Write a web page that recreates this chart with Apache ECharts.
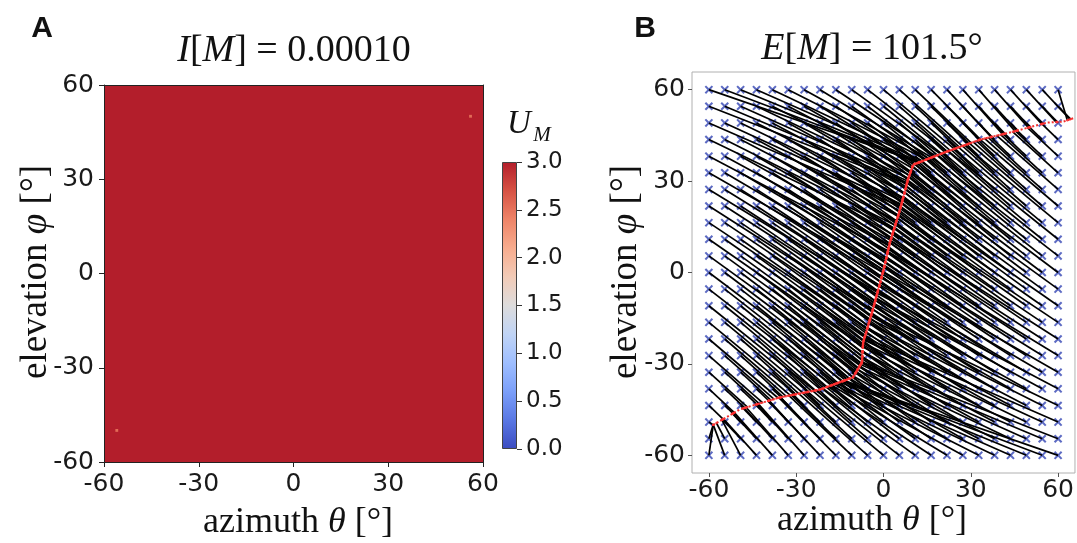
<!DOCTYPE html>
<html>
<head>
<meta charset="utf-8">
<script src="https://cdn.jsdelivr.net/npm/echarts@6/dist/echarts.min.js"></script>
<style>
html,body{margin:0;padding:0;background:#fff;}
#chart{width:1077px;height:543px;}
</style>
</head>
<body>
<div id="chart"></div>
<script>
// ---------- Panel A: U_M over azimuth / elevation ----------
const fieldTheta = [-60, 60];          // extent of the field in azimuth
const fieldPhi = [-60, 60];            // extent of the field in elevation
const fieldLevel = 3.0;                // U_M is at its ceiling everywhere
const speckTheta = [55.6, -56.4];      // two isolated lighter cells
const speckPhi = [49.6, -50.4];
const speckSize = 0.9;
const speckLevel = [2.55, 2.55];
const axisTicks = [-60, -30, 0, 30, 60];
const colorbarTicks = [0.0, 0.5, 1.0, 1.5, 2.0, 2.5, 3.0];
const coolwarm = ['#3b4cc0', '#5977e3', '#7b9ff9', '#9ebeff', '#c0d4f5', '#dddcdc',
                  '#f2cbb7', '#f7ac8e', '#ee8468', '#d65244', '#b31e2b'];

// ---------- Panel B: start grid and the ridge it settles onto ----------
const gridTheta = [-60, -54.55, -49.09, -43.64, -38.18, -32.73, -27.27, -21.82, -16.36, -10.91, -5.45,
                   0, 5.45, 10.91, 16.36, 21.82, 27.27, 32.73, 38.18, 43.64, 49.09, 54.55, 60];
const gridPhi = [-60, -54.55, -49.09, -43.64, -38.18, -32.73, -27.27, -21.82, -16.36, -10.91, -5.45,
                 0, 5.45, 10.91, 16.36, 21.82, 27.27, 32.73, 38.18, 43.64, 49.09, 54.55, 60];
const ridgeTheta = [-58.5, -49.3, -35.6, -21.8, -10.5, -7.4, -7.0, -3.6, -0.2, 2.2, 5.7, 8.4, 10.2,
                    21.8, 33.2, 44.5, 56.2, 61.7, 65.8];
const ridgePhi = [-50.0, -44.9, -41.0, -38.4, -34.4, -29.5, -23.0, -12.0, 0.0, 9.8, 20.7, 30.5, 35.4,
                  39.7, 43.6, 46.2, 49.2, 49.5, 50.8];
// steepness of the approach paths (descent per degree of azimuth) at coarse nodes
const slopeNodeTheta = [-60, -30, 0, 30, 60];
const slopeNodePhi = [-60, -30, 0, 30, 60];
const pathSlope = [
  [1.00, 1.10, 0.80, 0.50, 0.33],   // phi = -60
  [0.85, 0.90, 0.70, 0.62, 0.57],   // phi = -30
  [0.72, 0.72, 0.65, 0.72, 0.72],   // phi = 0
  [0.57, 0.62, 0.70, 0.90, 0.85],   // phi = 30
  [0.33, 0.50, 0.80, 1.10, 1.00]    // phi = 60
];

// ---------- helpers ----------
function nodeIndex(nodes, v) {
  let i = 0;
  while (i < nodes.length - 2 && v > nodes[i + 1]) i++;
  const f = (v - nodes[i]) / (nodes[i + 1] - nodes[i]);
  return [i, Math.max(0, Math.min(1, f))];
}
function slopeAt(t, p) {
  const [i, fx] = nodeIndex(slopeNodeTheta, t);
  const [j, fy] = nodeIndex(slopeNodePhi, p);
  const a = pathSlope[j][i] * (1 - fx) + pathSlope[j][i + 1] * fx;
  const b = pathSlope[j + 1][i] * (1 - fx) + pathSlope[j + 1][i + 1] * fx;
  return a * (1 - fy) + b * fy;
}
const ridge = ridgeTheta.map((t, i) => [t, ridgePhi[i]]);
function cross(a, b) { return a[0] * b[1] - a[1] * b[0]; }
function landing(t, p) {
  const s = slopeAt(t, p);
  const d = [1, -s];
  let best = null;
  for (let k = 0; k < ridge.length - 1; k++) {
    const A = ridge[k], B = ridge[k + 1];
    const e = [B[0] - A[0], B[1] - A[1]];
    const den = cross(d, e);
    if (Math.abs(den) < 1e-9) continue;
    const w = [A[0] - t, A[1] - p];
    const tt = cross(w, e) / den;
    const u = cross(w, d) / den;
    if (u >= 0 && u <= 1 && (best === null || Math.abs(tt) < Math.abs(best))) best = tt;
  }
  if (best !== null) return [t + best, p - s * best];
  // beyond the ridge ends: go to the closest point of the ridge
  let bp = ridge[0], bd = Infinity;
  for (let k = 0; k < ridge.length - 1; k++) {
    const A = ridge[k], B = ridge[k + 1];
    const e = [B[0] - A[0], B[1] - A[1]];
    let u = ((t - A[0]) * e[0] + (p - A[1]) * e[1]) / (e[0] * e[0] + e[1] * e[1]);
    u = Math.max(0, Math.min(1, u));
    const q = [A[0] + u * e[0], A[1] + u * e[1]];
    const dd = (q[0] - t) ** 2 + (q[1] - p) ** 2;
    if (dd < bd) { bd = dd; bp = q; }
  }
  return bp;
}

// ---------- build series data ----------
const fieldCells = [[fieldTheta[0], fieldTheta[1], fieldPhi[0], fieldPhi[1], fieldLevel]];
speckTheta.forEach((t, i) => {
  fieldCells.push([t, t + speckSize, speckPhi[i], speckPhi[i] + speckSize, speckLevel[i]]);
});

const startPoints = [];
const paths = [];
const ends = [];
gridPhi.forEach(p => {
  gridTheta.forEach(t => {
    startPoints.push([t, p]);
    const q = landing(t, p);
    paths.push({ coords: [[t, p], q] });
    ends.push(q);
  });
});

const cbStops = coolwarm.map((c, i) => ({ offset: i / (coolwarm.length - 1), color: c }));

const tickFont = { fontFamily: 'DejaVu Sans', fontSize: 25, color: '#1a1a1a' };
const serif = 'Liberation Serif';
const xMark = 'path://M0,1.7L1.7,0L5,3.3L8.3,0L10,1.7L6.7,5L10,8.3L8.3,10L5,6.7L1.7,10L0,8.3L3.3,5Z';
const spine = { show: true, onZero: false, lineStyle: { color: '#222', width: 1 } };

function mathText(x, y, text, size, rot) {
  const g = { type: 'text', x: x, y: y, style: {
    text: text, align: 'center', verticalAlign: 'middle',
    rich: { i: { fontFamily: serif, fontStyle: 'italic', fontSize: size, fill: '#111' },
            n: { fontFamily: serif, fontSize: size, fill: '#111' } } } };
  if (rot) g.rotation = rot;
  return g;
}

const chart = echarts.init(document.getElementById('chart'), null, { renderer: 'canvas' });
chart.setOption({
  animation: false,
  backgroundColor: '#ffffff',
  grid: [
    { left: 104, top: 85, width: 379, height: 377 },
    { left: 502, top: 162, width: 15, height: 287 },
    { left: 692, top: 72, width: 383, height: 401, show: true, borderColor: '#b0b0b0', borderWidth: 1, backgroundColor: 'transparent' }
  ],
  xAxis: [
    { type: 'value', gridIndex: 0, min: -60, max: 60, interval: 30, z: 10,
      axisLine: spine,
      axisTick: { show: true, length: 5, lineStyle: { color: '#222' } },
      axisLabel: Object.assign({ margin: 10 }, tickFont), splitLine: { show: false } },
    { type: 'value', gridIndex: 0, min: -60, max: 60, position: 'top', z: 10,
      axisLine: spine, axisTick: { show: false }, axisLabel: { show: false }, splitLine: { show: false } },
    { type: 'category', gridIndex: 1, data: ['U'], show: false },
    { type: 'value', gridIndex: 2, min: -65.8, max: 65.8,
      axisLine: { show: false, onZero: false },
      axisTick: { show: true, length: 4, customValues: axisTicks, lineStyle: { color: '#555' } },
      axisLabel: Object.assign({ margin: 5, customValues: axisTicks }, tickFont),
      splitLine: { show: false } }
  ],
  yAxis: [
    { type: 'value', gridIndex: 0, min: -60, max: 60, interval: 30, z: 10,
      axisLine: spine,
      axisTick: { show: true, length: 5, lineStyle: { color: '#222' } },
      axisLabel: Object.assign({ margin: 10 }, tickFont), splitLine: { show: false } },
    { type: 'value', gridIndex: 0, min: -60, max: 60, position: 'right', z: 10,
      axisLine: spine, axisTick: { show: false }, axisLabel: { show: false }, splitLine: { show: false } },
    { type: 'value', gridIndex: 1, min: 0, max: 3, interval: 0.5, position: 'right',
      axisLine: { show: false },
      axisTick: { show: true, length: 5, lineStyle: { color: '#333' } },
      axisLabel: { margin: 9, fontFamily: 'DejaVu Sans', fontSize: 23, color: '#1a1a1a',
                   formatter: v => v.toFixed(1) },
      splitLine: { show: false } },
    { type: 'value', gridIndex: 2, min: -65.8, max: 65.8,
      axisLine: { show: false, onZero: false },
      axisTick: { show: true, length: 4, customValues: axisTicks, lineStyle: { color: '#555' } },
      axisLabel: Object.assign({ margin: 7, customValues: axisTicks }, tickFont),
      splitLine: { show: false } }
  ],
  visualMap: [{
    type: 'continuous', show: false, min: colorbarTicks[0], max: colorbarTicks[colorbarTicks.length - 1],
    seriesIndex: 0, dimension: 4, inRange: { color: coolwarm }
  }],
  series: [
    {
      type: 'custom', name: 'U_M', xAxisIndex: 0, yAxisIndex: 0, silent: true,
      encode: { x: [0, 1], y: [2, 3] },
      data: fieldCells,
      renderItem: function (params, api) {
        const a = api.coord([api.value(0), api.value(3)]);
        const b = api.coord([api.value(1), api.value(2)]);
        return { type: 'rect', shape: { x: a[0], y: a[1], width: b[0] - a[0], height: b[1] - a[1] },
                 style: { fill: api.visual('color') } };
      }
    },
    {
      type: 'bar', name: 'colorbar', xAxisIndex: 2, yAxisIndex: 2, silent: true,
      barWidth: '100%', data: [colorbarTicks[colorbarTicks.length - 1]],
      itemStyle: { color: new echarts.graphic.LinearGradient(0, 1, 0, 0, cbStops),
                   borderColor: '#444', borderWidth: 1 }
    },
    {
      type: 'scatter', name: 'start', xAxisIndex: 3, yAxisIndex: 3, silent: true, z: 2,
      symbol: xMark, symbolSize: 8.5, data: startPoints,
      itemStyle: { color: '#3446b4' }
    },
    {
      type: 'lines', name: 'paths', coordinateSystem: 'cartesian2d', xAxisIndex: 3, yAxisIndex: 3,
      silent: true, z: 3, polyline: false, data: paths,
      lineStyle: { color: '#000000', width: 1.7, opacity: 1, curveness: 0 }
    },
    {
      type: 'line', name: 'ridge', xAxisIndex: 3, yAxisIndex: 3, silent: true, z: 4,
      data: ridge, symbol: 'none', smooth: false,
      lineStyle: { color: '#f03030', width: 2, type: [2, 2] }
    },
    {
      type: 'scatter', name: 'end', xAxisIndex: 3, yAxisIndex: 3, silent: true, z: 5,
      symbol: 'circle', symbolSize: 2.4, data: ends,
      itemStyle: { color: '#ff3030', opacity: 0.8 }
    }
  ],
  graphic: [
    { type: 'text', x: 42, y: 29, style: { text: 'A', font: 'bold 30px "Liberation Sans", Arial, sans-serif', fill: '#111', align: 'center', verticalAlign: 'middle' } },
    { type: 'text', x: 645, y: 29, style: { text: 'B', font: 'bold 30px "Liberation Sans", Arial, sans-serif', fill: '#111', align: 'center', verticalAlign: 'middle' } },
    mathText(294, 51, '{i|I}{n|[}{i|M}{n|] = 0.00010}', 38),
    mathText(872, 49, '{i|E}{n|[}{i|M}{n|] = 101.5°}', 38),
    mathText(298, 523, '{n|azimuth }{i|θ}{n| [°]}', 36),
    mathText(872, 521, '{n|azimuth }{i|θ}{n| [°]}', 36),
    mathText(36, 272, '{n|elevation }{i|φ}{n| [°]}', 37, Math.PI / 2),
    mathText(626, 272, '{n|elevation }{i|φ}{n| [°]}', 37, Math.PI / 2),
    { type: 'text', x: 519, y: 124, style: { text: 'U', font: 'italic 33px "Liberation Serif", serif', fill: '#111', align: 'center', verticalAlign: 'middle' } },
    { type: 'text', x: 542, y: 135, style: { text: 'M', font: 'italic 21px "Liberation Serif", serif', fill: '#111', align: 'center', verticalAlign: 'middle' } }
  ]
});
</script>
</body>
</html>
